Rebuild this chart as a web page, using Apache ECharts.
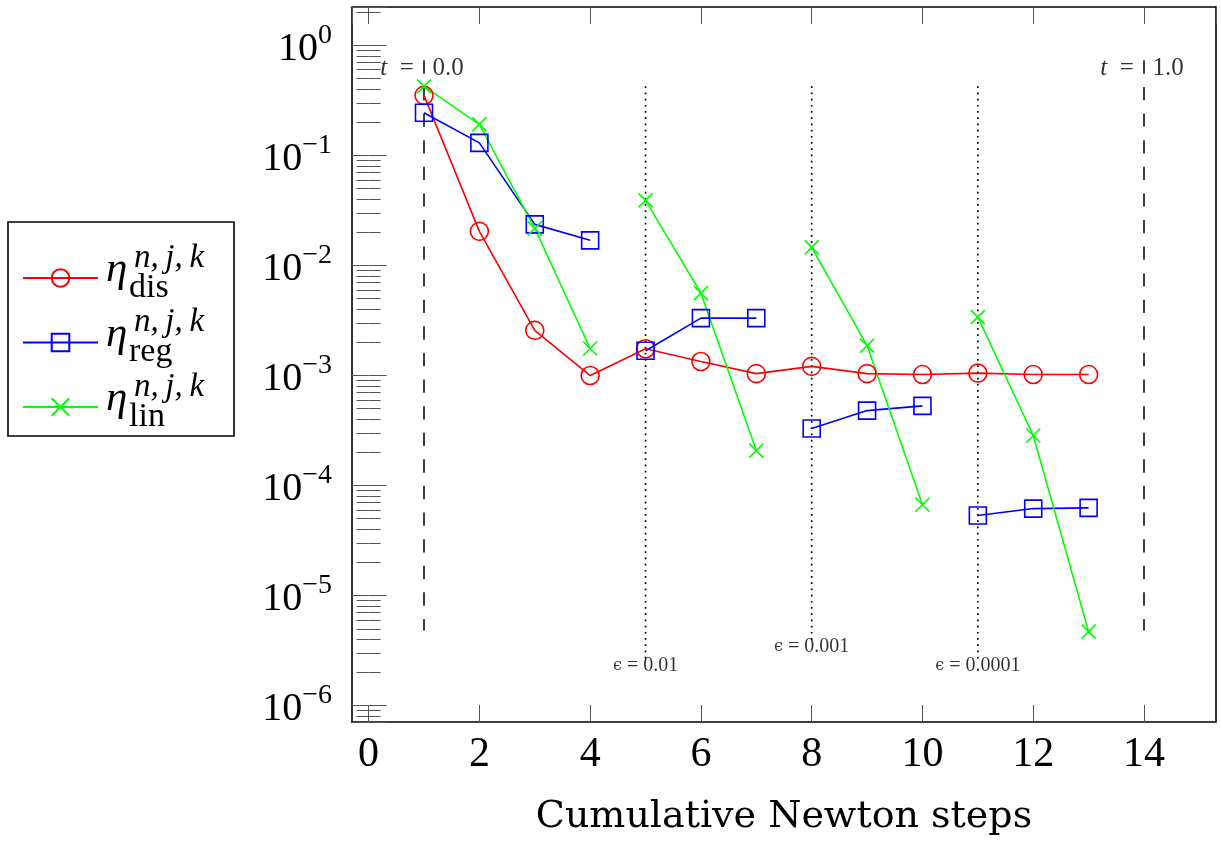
<!DOCTYPE html>
<html>
<head>
<meta charset="utf-8">
<script src="https://cdn.jsdelivr.net/npm/echarts@6/dist/echarts.min.js"></script>
<style>html,body{margin:0;padding:0;background:#fff}#c{width:1221px;height:841px}</style>
</head>
<body>
<div id="c"></div>
<script>
// ---------- data ----------
const steps   = [1, 2, 3, 4, 5, 6, 7, 8, 9, 10, 11, 12, 13];
const etaDis  = [0.351, 0.0204, 0.00257, 0.00100, 0.00175, 0.00134, 0.00104, 0.00121, 0.00104, 0.00102, 0.00105, 0.00102, 0.00102];
const etaReg  = [0.244, 0.130, 0.0236, 0.0169, 0.00168, 0.00332, 0.00332, 0.00033, 0.00048, 0.00053, 0.0000534, 0.0000618, 0.0000627];
const etaLin  = [0.424, 0.191, 0.0217, 0.00176, 0.039, 0.0056, 0.000208, 0.0146, 0.00187, 0.000067, 0.00339, 0.000285, 0.00000471];
// index ranges [start, end) of the separate Newton runs
const runs    = [[0, 4], [4, 7], [7, 10], [10, 13]];

const tStepX   = [1, 14];
const tTop     = 0.73;
const tBottom  = 0.0000048;
const tLabels  = ['t', 't'];
const tValues  = ['0.0', '1.0'];

const epsX      = [5, 8, 11];
const epsTop    = [0.424, 0.424, 0.424];
const epsBottom = [0.0000026, 0.0000039, 0.0000026];
const epsValues = ['0.01', '0.001', '0.0001'];

const seriesNames = ['dis', 'reg', 'lin'];
const legendSubs  = ['dis', 'reg', 'lin'];
const legendSup   = 'n,\u2009j,\u2009k';
const xAxisName   = 'Cumulative Newton steps';

// ---------- styling ----------
const SERIF = "'Liberation Serif', 'DejaVu Serif', serif";
const xMin = -0.3, xMax = 15.3;
const yMin = Math.pow(10, -6.148), yMax = Math.pow(10, 0.348);
const tickColor = '#555';

function pairs(xs, ys, a, b) {
  const out = [];
  for (let i = a; i < b; i++) out.push([xs[i], ys[i]]);
  return out;
}

const styles = {
  dis: { color: '#ff0000', symbol: 'circle', size: 18 },
  reg: { color: '#0000ff', symbol: 'rect', size: 17 },
  lin: { color: '#00ff00', symbol: 'path://M0,0L10,10M10,0L0,10', size: 14 }
};

function lineSeries(name, data) {
  const s = styles[name];
  return {
    type: 'line', name: name, data: data,
    symbol: s.symbol, symbolSize: s.size, showSymbol: true,
    color: s.color,
    lineStyle: { color: s.color, width: 1.6 },
    itemStyle: { color: 'rgba(0,0,0,0)', borderColor: s.color, borderWidth: 1.6 },
    emphasis: { disabled: true },
    animation: false, z: 5
  };
}

const series = [];
// vertical reference lines
tStepX.forEach(function (x) {
  series.push({
    type: 'line', data: [[x, tTop], [x, tBottom]], symbol: 'none', silent: true,
    lineStyle: { color: '#000', width: 1.5, type: [13.3, 13.3] }, z: 2, animation: false
  });
});
epsX.forEach(function (x, i) {
  series.push({
    type: 'line', data: [[x, epsTop[i]], [x, epsBottom[i]]], symbol: 'none', silent: true,
    lineStyle: { color: '#000', width: 1.7, type: [1.7, 4.5] }, z: 2, animation: false
  });
});
// labels for reference lines
series.push({
  type: 'scatter', silent: true, symbolSize: 1, itemStyle: { color: 'rgba(0,0,0,0)' }, z: 3, animation: false,
  data: tStepX.map(function (x, i) { return { value: [x, tTop], name: i }; }),
  label: {
    show: true, position: 'inside', offset: [-2, 8], color: '#000',
    fontFamily: SERIF, fontSize: 25,
    formatter: function (p) { return '{i|' + tLabels[p.dataIndex] + '}\u2002=\u2002 ' + tValues[p.dataIndex]; },
    rich: { i: { fontStyle: 'italic', fontFamily: SERIF, fontSize: 25, color: '#000' } }
  }
});
series.push({
  type: 'scatter', silent: true, symbolSize: 1, itemStyle: { color: 'rgba(0,0,0,0)' }, z: 3, animation: false,
  data: epsX.map(function (x, i) { return [x, epsBottom[i]]; }),
  label: {
    show: true, position: 'inside', offset: [0, 6], color: '#000',
    fontFamily: SERIF, fontSize: 20,
    formatter: function (p) { return '{e|\u03F5} = ' + epsValues[p.dataIndex]; },
    rich: { e: { fontFamily: "'DejaVu Serif', serif", fontSize: 16, color: '#000' } }
  }
});
// data series
series.push(lineSeries('dis', pairs(steps, etaDis, 0, steps.length)));
runs.forEach(function (r) { series.push(lineSeries('reg', pairs(steps, etaReg, r[0], r[1]))); });
runs.forEach(function (r) { series.push(lineSeries('lin', pairs(steps, etaLin, r[0], r[1]))); });

function logLabel(v) {
  const e = Math.log10(v);
  const r = Math.round(e);
  if (Math.abs(e - r) > 1e-6) return '';
  return '{h|}{b|10}{s|' + (r < 0 ? '\u2212' + (-r) : String(r)) + '}';
}

// legend math labels as graphics
const graphics = [];
legendSubs.forEach(function (sub, i) {
  const y0 = 278 + 64.5 * i;
  graphics.push({ type: 'text', style: { x: 106, y: y0 - 8, text: '\u03B7', font: 'italic 43px ' + SERIF, fill: '#000', verticalAlign: 'middle' }, z: 100 });
  graphics.push({ type: 'text', style: { x: 134, y: y0 - 20, text: legendSup, font: 'italic 33px ' + SERIF, fill: '#000', verticalAlign: 'middle' }, z: 100 });
  graphics.push({ type: 'text', style: { x: 129, y: y0 + 10, text: sub, font: '34px ' + SERIF, fill: '#000', verticalAlign: 'middle' }, z: 100 });
});

const chart = echarts.init(document.getElementById('c'), null, { renderer: 'canvas' });
chart.setOption({
  backgroundColor: '#fff',
  animation: false,
  grid: { left: 352, top: 7, right: 5, bottom: 119, show: true, borderColor: '#000', borderWidth: 1.6, backgroundColor: 'rgba(0,0,0,0)' },
  legend: {
    data: seriesNames, orient: 'vertical', left: 8, top: 222,
    padding: [27, 0, 0, 14], itemGap: 6.5, itemWidth: 75, itemHeight: 22,
    borderColor: '#000', borderWidth: 1.6, backgroundColor: '#fff',
    selectedMode: false,
    formatter: function () { return '{a|\u00a0}'; },
    textStyle: { width: 131, height: 58, lineHeight: 58, rich: { a: { width: 131, height: 58, lineHeight: 58 } } }
  },
  graphic: graphics,
  xAxis: [{
    type: 'value', min: xMin, max: xMax, splitNumber: 8, position: 'bottom',
    axisLine: { show: false }, splitLine: { show: false },
    axisTick: { show: true, inside: true, length: 17, lineStyle: { color: tickColor, width: 1 } },
    axisLabel: {
      margin: 12, color: '#000', fontFamily: SERIF, fontSize: 42, showMinLabel: false, showMaxLabel: false,
      formatter: function (v) { return Math.abs(v - Math.round(v)) < 1e-9 ? String(Math.round(v)) : ''; }
    },
    name: xAxisName, nameLocation: 'middle', nameGap: 76,
    nameTextStyle: { color: '#000', fontFamily: "'DejaVu Serif', serif", fontSize: 38 }
  }, {
    type: 'value', min: xMin, max: xMax, splitNumber: 8, position: 'top',
    axisLine: { show: false }, splitLine: { show: false }, axisLabel: { show: false },
    axisTick: { show: true, inside: true, length: 17, lineStyle: { color: tickColor, width: 1 } }
  }],
  yAxis: [{
    type: 'log', min: yMin, max: yMax, position: 'left', splitNumber: 7,
    axisLine: { show: false }, splitLine: { show: false },
    axisTick: { show: true, inside: true, length: 18, lineStyle: { color: tickColor, width: 1 } },
    minorTick: { show: true, splitNumber: 9, length: 12, lineStyle: { color: tickColor, width: 1 } },
    axisLabel: {
      margin: 20, color: '#000', fontFamily: SERIF, showMinLabel: false, showMaxLabel: false,
      formatter: logLabel,
      rich: {
        h: { height: 48, width: 0 },
        b: { fontFamily: SERIF, fontSize: 40, color: '#000', verticalAlign: 'bottom' },
        s: { fontFamily: SERIF, fontSize: 28, color: '#000', verticalAlign: 'top' }
      }
    }
  }, {
    type: 'log', min: yMin, max: yMax, position: 'right', splitNumber: 7,
    axisLine: { show: false }, splitLine: { show: false }, axisLabel: { show: false },
    axisTick: { show: true, inside: true, length: 18, lineStyle: { color: tickColor, width: 1 } },
    minorTick: { show: true, splitNumber: 9, length: 12, lineStyle: { color: tickColor, width: 1 } }
  }],
  series: series
});
</script>
</body>
</html>
